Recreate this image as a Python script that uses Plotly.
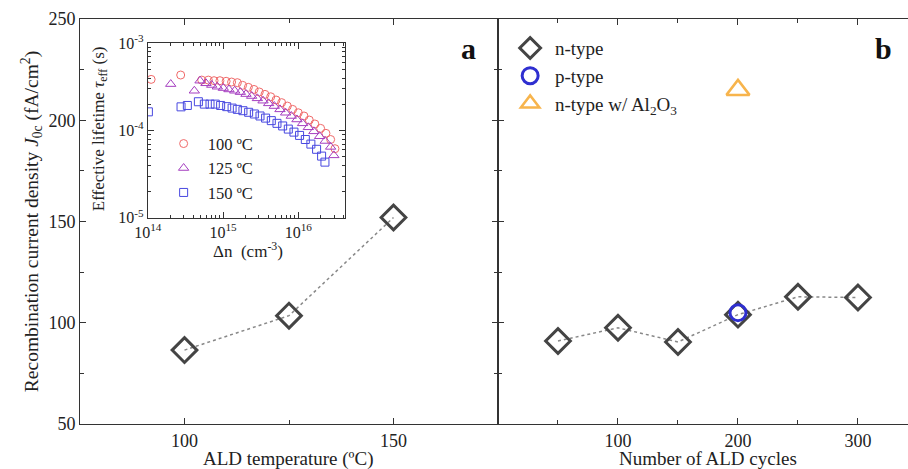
import plotly.graph_objects as go

# ---- panel a: J0c vs ALD temperature ----
temp_c = [100, 125, 150]
j0c_temp = [86.5, 103.5, 152]

# ---- panel b: J0c vs number of ALD cycles ----
cycles_n = [50, 100, 150, 200, 250, 300]
j0c_n = [91, 97.5, 90.5, 104, 112.8, 112.5]
cycles_p = [200]
j0c_p = [105]
cycles_al = [200]
j0c_al = [215]

# ---- inset: effective lifetime vs injection level ----
dn_100 = [1.11e14, 2.74e14, 5.21e14, 6.38e14, 7.6e14, 9.1e14, 1.10e15, 1.30e15, 1.55e15,
          1.82e15, 2.17e15, 2.58e15, 3.03e15, 3.61e15, 4.30e15, 5.06e15, 6.01e15, 7.15e15,
          8.41e15, 1.0e16, 1.19e16, 1.40e16, 1.66e16, 1.98e16, 2.33e16, 2.69e16, 3.07e16]
tau_100 = [3.86e-4, 4.33e-4, 3.79e-4, 3.79e-4, 3.73e-4, 3.73e-4, 3.67e-4, 3.60e-4, 3.54e-4,
           3.30e-4, 3.13e-4, 2.96e-4, 2.77e-4, 2.60e-4, 2.44e-4, 2.24e-4, 2.09e-4, 1.91e-4,
           1.75e-4, 1.60e-4, 1.47e-4, 1.32e-4, 1.19e-4, 1.06e-4, 9.3e-5, 7.9e-5, 6.2e-5]

dn_125 = [2.02e14, 4.16e14, 4.95e14, 5.94e14, 7.08e14, 8.41e14, 1.01e15, 1.20e15, 1.43e15,
          1.70e15, 2.02e15, 2.40e15, 2.86e15, 3.40e15, 4.04e15, 4.80e15, 5.71e15, 6.79e15,
          8.07e15, 9.60e15, 1.14e16, 1.36e16, 1.61e16, 1.92e16, 2.28e16, 2.69e16, 2.97e16]
tau_125 = [3.41e-4, 2.86e-4, 3.73e-4, 3.48e-4, 3.33e-4, 3.18e-4, 3.07e-4, 2.96e-4, 2.86e-4,
           2.76e-4, 2.62e-4, 2.49e-4, 2.34e-4, 2.20e-4, 2.05e-4, 1.91e-4, 1.75e-4, 1.60e-4,
           1.47e-4, 1.34e-4, 1.21e-4, 1.09e-4, 9.8e-5, 8.6e-5, 7.6e-5, 6.5e-5, 5.2e-5]

dn_150 = [1.02e14, 2.77e14, 3.36e14, 4.71e14, 5.65e14, 6.72e14, 7.9e14, 9.3e14, 1.12e15,
          1.32e15, 1.55e15, 1.84e15, 2.19e15, 2.61e15, 3.10e15, 3.68e15, 4.38e15, 5.21e15,
          6.20e15, 7.37e15, 8.76e15, 1.04e16, 1.24e16, 1.47e16, 1.75e16, 2.04e16, 2.26e16]
tau_150 = [1.64e-4, 1.87e-4, 1.94e-4, 2.14e-4, 2.01e-4, 2.01e-4, 2.01e-4, 1.94e-4, 1.88e-4,
           1.81e-4, 1.75e-4, 1.69e-4, 1.62e-4, 1.55e-4, 1.47e-4, 1.39e-4, 1.30e-4, 1.21e-4,
           1.13e-4, 1.04e-4, 9.6e-5, 8.8e-5, 7.9e-5, 7.0e-5, 6.1e-5, 5.1e-5, 4.35e-5]

# log-axis tick positions for the inset
dn_major = [1e14, 1e15, 1e16]
dn_major_text = ["10<sup>14</sup>", "10<sup>15</sup>", "10<sup>16</sup>"]
dn_minor = [m * 10 ** e for e in (14, 15, 16) for m in range(2, 10) if m * 10 ** e < 4.2e16]
tau_major = [1e-5, 1e-4, 1e-3]
tau_major_text = ["10<sup>-5</sup>", "10<sup>-4</sup>", "10<sup>-3</sup>"]
tau_minor = [m * 10.0 ** e for e in (-5, -4) for m in range(2, 10)]

SERIF = "Liberation Serif, Times New Roman, serif"
DARK = "#444444"
AXC = "#333333"
NB = "\u00a0"

fig = go.Figure()

# panel a
fig.add_trace(go.Scatter(x=temp_c, y=j0c_temp, mode="lines",
                         line=dict(color="#888888", width=1.5, dash="dot"),
                         showlegend=False, xaxis="x", yaxis="y"))
fig.add_trace(go.Scatter(x=temp_c, y=j0c_temp, mode="markers",
                         marker=dict(symbol="diamond-open", size=19, color=DARK,
                                     line=dict(width=3, color=DARK)),
                         showlegend=False, xaxis="x", yaxis="y"))

# panel b
fig.add_trace(go.Scatter(x=cycles_n, y=j0c_n, mode="lines",
                         line=dict(color="#888888", width=1.5, dash="dot"),
                         showlegend=False, xaxis="x2", yaxis="y2"))
fig.add_trace(go.Scatter(x=cycles_n, y=j0c_n, mode="markers", name=NB + "n-type",
                         marker=dict(symbol="diamond-open", size=19, color=DARK,
                                     line=dict(width=3, color=DARK)),
                         xaxis="x2", yaxis="y2", legend="legend"))
fig.add_trace(go.Scatter(x=cycles_p, y=j0c_p, mode="markers", name=NB + "p-type",
                         marker=dict(symbol="circle-open", size=16, color="#2f2fd0",
                                     line=dict(width=3, color="#2f2fd0")),
                         xaxis="x2", yaxis="y2", legend="legend"))
fig.add_trace(go.Scatter(x=cycles_al, y=j0c_al, mode="markers",
                         name=NB + "n-type w/ Al<sub>2</sub>O<sub>3</sub>",
                         marker=dict(symbol="triangle-up-open", size=20, color="#f7b44c",
                                     line=dict(width=2.5, color="#f7b44c")),
                         xaxis="x2", yaxis="y2", legend="legend"))

# inset
fig.add_trace(go.Scatter(x=dn_100, y=tau_100, mode="markers", name=NB + "100 ºC",
                         marker=dict(symbol="circle-open", size=8, color="#f06a6a",
                                     line=dict(width=1, color="#f06a6a")),
                         xaxis="x3", yaxis="y3", legend="legend2"))
fig.add_trace(go.Scatter(x=dn_125, y=tau_125, mode="markers", name=NB + "125 ºC",
                         marker=dict(symbol="triangle-up-open", size=9, color="#a53ec0",
                                     line=dict(width=1, color="#a53ec0")),
                         xaxis="x3", yaxis="y3", legend="legend2"))
fig.add_trace(go.Scatter(x=dn_150, y=tau_150, mode="markers", name=NB + "150 ºC",
                         marker=dict(symbol="square-open", size=8, color="#4848e0",
                                     line=dict(width=1, color="#4848e0")),
                         xaxis="x3", yaxis="y3", legend="legend2"))

split = 418 / 828

main_axis = dict(showline=True, linecolor=AXC, linewidth=1, ticks="inside",
                 ticklen=6, tickcolor=AXC, showgrid=False, zeroline=False,
                 tickfont=dict(family=SERIF, size=18, color="#222"))
inset_axis = dict(type="log", showline=True, linecolor=AXC, linewidth=1, mirror="ticks",
                  ticks="inside", ticklen=6, tickcolor=AXC, showgrid=False, zeroline=False,
                  tickfont=dict(family=SERIF, size=16, color="#222"))

fig.update_layout(
    width=908, height=469,
    margin=dict(l=80, r=0, t=19, b=45),
    paper_bgcolor="white", plot_bgcolor="white",
    font=dict(family=SERIF, color="#222"),
    xaxis=dict(main_axis, domain=[0, split], range=[75, 175], anchor="y",
               tickvals=[100, 150], mirror="ticks",
               minor=dict(tickvals=[125], ticks="inside", ticklen=4, tickcolor=AXC)),
    yaxis=dict(main_axis, domain=[0, 1], range=[50, 250], anchor="x",
               tickvals=[50, 100, 150, 200, 250], mirror="ticks",
               minor=dict(tickvals=[75, 125, 175, 225], ticks="inside", ticklen=4, tickcolor=AXC),
               title=dict(text="Recombination current density <i>J</i><sub>0c</sub> (fA/cm<sup>2</sup>)",
                          font=dict(size=19.5), standoff=4)),
    xaxis2=dict(main_axis, domain=[split, 1], range=[0, 341.7], anchor="y2",
                tickvals=[100, 200, 300], mirror="ticks",
                minor=dict(tickvals=[50, 150, 250], ticks="inside", ticklen=4, tickcolor=AXC)),
    yaxis2=dict(main_axis, domain=[0, 1], range=[50, 250], anchor="x2",
                tickvals=[50, 100, 150, 200, 250], showticklabels=False, mirror=False,
                minor=dict(tickvals=[75, 125, 175, 225], ticks="inside", ticklen=4, tickcolor=AXC)),
    xaxis3=dict(inset_axis, domain=[0.0818, 0.320], range=[14, 16.62], anchor="y3",
                tickvals=dn_major, ticktext=dn_major_text,
                minor=dict(tickvals=dn_minor, ticks="inside", ticklen=3, tickcolor=AXC,
                           showgrid=False)),
    yaxis3=dict(inset_axis, domain=[0.509, 0.940], range=[-5, -3], anchor="x3",
                tickvals=tau_major, ticktext=tau_major_text,
                minor=dict(tickvals=tau_minor, ticks="inside", ticklen=3, tickcolor=AXC,
                           showgrid=False)),
    legend=dict(x=0.5195, y=0.975, xanchor="left", yanchor="top",
                bgcolor="rgba(0,0,0,0)", font=dict(family=SERIF, size=19, color="#222"),
                tracegroupgap=0, itemsizing="trace"),
    legend2=dict(x=0.101, y=0.735, xanchor="left", yanchor="top",
                 bgcolor="rgba(0,0,0,0)", font=dict(family=SERIF, size=16.5, color="#222"),
                 tracegroupgap=0, itemsizing="trace"),
    annotations=[
        dict(text="<b>a</b>", x=0.4686, y=0.928, xref="paper", yref="paper",
             xanchor="center", yanchor="middle",
             showarrow=False, font=dict(family=SERIF, size=30, color="#111")),
        dict(text="<b>b</b>", x=0.970, y=0.928, xref="paper", yref="paper",
             xanchor="center", yanchor="middle",
             showarrow=False, font=dict(family=SERIF, size=30, color="#111")),
        # bottom axis titles of the two panels
        dict(text="ALD temperature (ºC)", x=0.2524, y=-0.086, xref="paper", yref="paper",
             xanchor="center", yanchor="middle",
             showarrow=False, font=dict(family=SERIF, size=19, color="#222")),
        dict(text="Number of ALD cycles", x=0.7585, y=-0.086, xref="paper", yref="paper",
             xanchor="center", yanchor="middle",
             showarrow=False, font=dict(family=SERIF, size=19, color="#222")),
        # inset axis titles
        dict(text="Δn  (cm<sup>-3</sup>)", x=0.2029, y=0.430, xref="paper", yref="paper",
             xanchor="center", yanchor="middle",
             showarrow=False, font=dict(family=SERIF, size=17, color="#222")),
        dict(text="Effective lifetime <i>τ</i><sub>eff</sub> (s)", x=0.0242, y=0.728,
             xref="paper", yref="paper", xanchor="center", yanchor="middle", textangle=-90,
             showarrow=False, font=dict(family=SERIF, size=17, color="#222")),
    ],
)

fig.write_html("out.html")
